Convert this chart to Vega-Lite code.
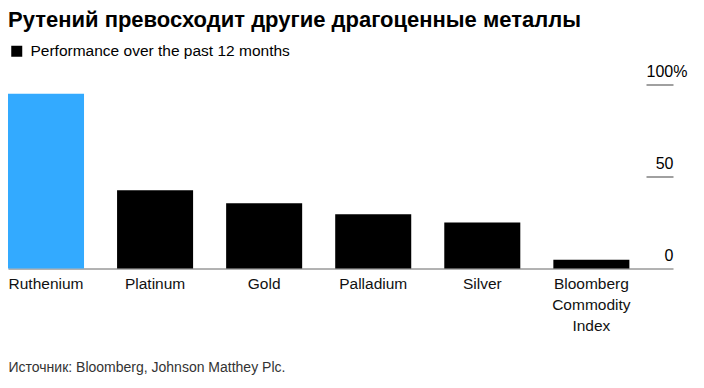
{
  "$schema": "https://vega.github.io/schema/vega-lite/v6.json",
  "autosize": {"type": "none"},
  "width": 665,
  "height": 184,
  "padding": {"left": 8, "top": 84.5, "right": 31, "bottom": 119.5},
  "background": "white",
  "title": {
    "text": "Рутений превосходит другие драгоценные металлы",
    "anchor": "start",
    "frame": "group",
    "font": "Liberation Sans",
    "fontSize": 22,
    "fontWeight": "bold",
    "color": "#000000",
    "offset": 12
  },
  "data": {
    "values": [
      {"metal": "Ruthenium", "value": 95, "series": "Performance over the past 12 months"},
      {"metal": "Platinum", "value": 42.5, "series": "Performance over the past 12 months"},
      {"metal": "Gold", "value": 35.5, "series": "Performance over the past 12 months"},
      {"metal": "Palladium", "value": 29.5, "series": "Performance over the past 12 months"},
      {"metal": "Silver", "value": 25, "series": "Performance over the past 12 months"},
      {"metal": "Bloomberg Commodity Index", "value": 4.8, "series": "Performance over the past 12 months"}
    ]
  },
  "mark": {"type": "bar"},
  "encoding": {
    "x": {
      "field": "metal",
      "type": "nominal",
      "sort": null,
      "scale": {"paddingInner": 0.303, "paddingOuter": 0.2, "align": 0},
      "axis": {
        "title": "Источник: Bloomberg, Johnson Matthey Plc.",
        "titleFont": "Liberation Sans",
        "titleFontSize": 14,
        "titleFontWeight": "normal",
        "titleColor": "#333333",
        "titleAnchor": "start",
        "titleAlign": "left",
        "titleBaseline": "alphabetic",
        "titleX": 0,
        "titleY": 102.5,
        "labelAngle": 0,
        "labelFont": "Liberation Sans",
        "labelFontSize": 15.5,
        "labelColor": "#111111",
        "labelBaseline": "top",
        "labelPadding": 8,
        "labelLineHeight": 21,
        "ticks": false,
        "domainColor": "#666666",
        "domainWidth": 1,
        "labelExpr": "datum.value == 'Bloomberg Commodity Index' ? ['Bloomberg','Commodity','Index'] : datum.value"
      }
    },
    "y": {
      "field": "value",
      "type": "quantitative",
      "scale": {"domain": [0, 100]},
      "axis": {
        "orient": "right",
        "values": [0, 50, 100],
        "title": null,
        "domain": false,
        "grid": false,
        "ticks": true,
        "tickSize": -27,
        "tickColor": "#808080",
        "tickWidth": 1.5,
        "tickOpacity": {"condition": {"test": "datum.value == 0", "value": 0}, "value": 1},
        "labelFont": "Liberation Sans",
        "labelFontSize": 16,
        "labelColor": "#000000",
        "labelBaseline": "alphabetic",
        "labelOffset": -8,
        "labelPadding": {"condition": {"test": "datum.value == 100", "value": 0}, "value": 27},
        "labelAlign": {"condition": {"test": "datum.value == 100", "value": "left"}, "value": "right"},
        "labelExpr": "datum.value == 100 ? '100%' : datum.label"
      }
    },
    "color": {
      "condition": {"test": "datum.metal === 'Ruthenium'", "value": "#33aaff"},
      "field": "series",
      "type": "nominal",
      "scale": {"range": ["#000000"]},
      "legend": {
        "orient": "none",
        "legendX": 1,
        "legendY": -41,
        "title": null,
        "symbolType": "square",
        "symbolSize": 121,
        "symbolStrokeWidth": 0,
        "symbolFillColor": "#000000",
        "labelFont": "Liberation Sans",
        "labelFontSize": 15.5,
        "labelColor": "#000000",
        "labelOffset": 6,
        "labelLimit": 0
      }
    }
  },
  "config": {"view": {"stroke": null}}
}
